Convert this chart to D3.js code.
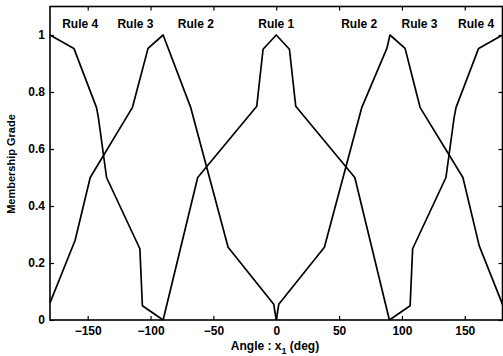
<!DOCTYPE html>
<html>
<head>
<meta charset="utf-8">
<script src="https://cdn.jsdelivr.net/npm/d3@7"></script>
<style>
  html, body { margin: 0; padding: 0; background: #fff; }
  svg { display: block; }
  text { font-family: "Liberation Sans", Arial, Helvetica, sans-serif; fill: #000; }
</style>
</head>
<body>
<svg id="chart" width="503" height="356"></svg>
<script>
// Membership functions of the angle rules: angle x1 in degrees, membership grade 0..1
const rule4LeftAngle  = [-180, -161, -143, -141.5, -135, -108.5, -106.5, -90];
const rule4LeftGrade  = [1, 0.953, 0.745, 0.71, 0.5, 0.25, 0.05, 0];

const rule3LeftAngle  = [-180, -160, -148, -114.5, -102, -90, -68, -38.3, -2, 0];
const rule3LeftGrade  = [0.06, 0.28, 0.5, 0.745, 0.953, 1, 0.745, 0.255, 0.055, 0];

const rule1Angle      = [-90, -62.5, -15.5, -10.5, 0, 10.5, 15.5, 62.5, 90];
const rule1Grade      = [0, 0.5, 0.75, 0.95, 1, 0.95, 0.75, 0.5, 0];

const rule3RightAngle = [0, 2, 38.3, 68, 88, 90.5, 102.5, 114.5, 148.5, 161.5, 180];
const rule3RightGrade = [0, 0.055, 0.255, 0.745, 0.953, 1, 0.953, 0.745, 0.5, 0.26, 0.055];

const rule4RightAngle = [90, 106.5, 108.5, 135, 141.5, 143, 161, 180];
const rule4RightGrade = [0, 0.05, 0.25, 0.5, 0.71, 0.745, 0.953, 1];

const xTicks = [-150, -100, -50, 0, 50, 100, 150];
const yTicks = [0, 0.2, 0.4, 0.6, 0.8, 1];
const yTickLabels = ["0", "0.2", "0.4", "0.6", "0.8", "1"];

const ruleNames = ["Rule 4", "Rule 3", "Rule 2", "Rule 1", "Rule 2", "Rule 3", "Rule 4"];
const ruleLabelAngles = [-156, -112, -64, 0, 66, 114, 159];

const svg = d3.select("#chart");

const x = d3.scaleLinear().domain([-180, 180]).range([50, 502.5]);
const y = d3.scaleLinear().domain([0, 1.1]).range([320, 6.5]);

// Inward ticks on all four sides, boxed axes
const tickFont = g => g.selectAll("text")
  .style("font-size", "12px").style("font-weight", "bold");

svg.append("g").attr("transform", `translate(0,${y(0)})`)
  .call(d3.axisBottom(x).tickValues(xTicks).tickSize(-4).tickPadding(6)
        .tickFormat(d3.format("d")))
  .call(g => g.select(".domain").remove())
  .call(tickFont);

svg.append("g").attr("transform", `translate(0,${y.range()[1]})`)
  .call(d3.axisTop(x).tickValues(xTicks).tickSize(-4).tickFormat(""))
  .call(g => g.select(".domain").remove());

svg.append("g").attr("transform", `translate(${x(-180)},0)`)
  .call(d3.axisLeft(y).tickValues(yTicks).tickSize(-4).tickPadding(5)
        .tickFormat((d, i) => yTickLabels[i]))
  .call(g => g.select(".domain").remove())
  .call(tickFont);

svg.append("g").attr("transform", `translate(${x(180)},0)`)
  .call(d3.axisRight(y).tickValues(yTicks).tickSize(-4).tickFormat(""))
  .call(g => g.select(".domain").remove());

svg.selectAll(".tick line").attr("stroke", "#000").attr("stroke-width", 1.2);

// Plot frame
svg.append("rect")
  .attr("x", x(-180)).attr("y", y(1.1))
  .attr("width", x(180) - x(-180)).attr("height", y(0) - y(1.1))
  .attr("fill", "none").attr("stroke", "#000").attr("stroke-width", 1.6);

// Membership curves
const line = d3.line().x(d => x(d[0])).y(d => y(d[1]));
const curves = [
  [rule4LeftAngle, rule4LeftGrade],
  [rule3LeftAngle, rule3LeftGrade],
  [rule1Angle, rule1Grade],
  [rule3RightAngle, rule3RightGrade],
  [rule4RightAngle, rule4RightGrade]
];
svg.append("g").selectAll("path")
  .data(curves.map(([a, g]) => a.map((v, i) => [v, g[i]])))
  .join("path")
  .attr("d", line)
  .attr("fill", "none")
  .attr("stroke", "#000")
  .attr("stroke-width", 1.7)
  .attr("stroke-linejoin", "round");

// Rule names above the peaks
svg.append("g").selectAll("text")
  .data(ruleNames)
  .join("text")
  .attr("x", (d, i) => x(ruleLabelAngles[i]))
  .attr("y", y(1) - 7.5)
  .attr("text-anchor", "middle")
  .style("font-size", "12px")
  .style("font-weight", "bold")
  .text(d => d);

// Axis titles
const xTitle = svg.append("text")
  .attr("x", 275).attr("y", 350)
  .attr("text-anchor", "middle")
  .style("font-size", "12px").style("font-weight", "bold");
xTitle.append("tspan").text("Angle : x");
xTitle.append("tspan").attr("dy", 4).style("font-size", "9px").text("1");
xTitle.append("tspan").attr("dy", -4).text(" (deg)");

svg.append("text")
  .attr("transform", "translate(15,164) rotate(-90)")
  .attr("text-anchor", "middle")
  .style("font-size", "11px").style("font-weight", "bold")
  .text("Membership Grade");
</script>
</body>
</html>
